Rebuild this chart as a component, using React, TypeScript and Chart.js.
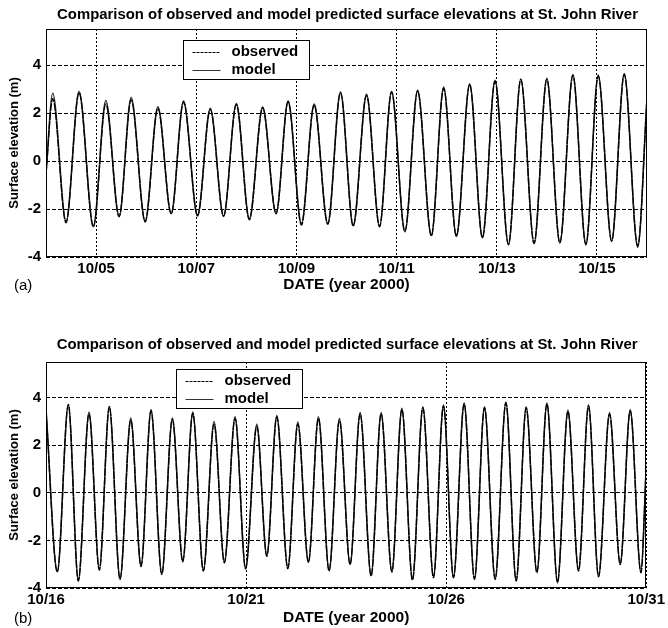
import React, { useEffect, useRef } from "react";
import { Chart, registerables } from "chart.js";

Chart.register(...registerables);

// ---------- text ----------
const TITLE = "Comparison of observed and model predicted surface elevations at St. John River";
const Y_TITLE = "Surface elevation (m)";
const X_TITLE = "DATE (year 2000)";
const SERIES_LABELS = ["observed", "model"];
const Y_TICKS = [-4, -2, 0, 2, 4];

// ---------- panel (a): 10/04 - 10/16 (day of October) ----------
const A_TICK_DAYS = [5, 7, 9, 11, 13, 15];
const A_TICK_LABELS = ["10/05", "10/07", "10/09", "10/11", "10/13", "10/15"];
const A_TIMES = [
  4.0, 4.134, 4.4, 4.66, 4.946, 5.194, 5.46, 5.7, 5.98, 6.234, 6.5, 6.746, 7.026, 7.28, 7.546, 7.8,
  8.06, 8.326, 8.594, 8.834, 9.1, 9.354, 9.626, 9.88, 10.134, 10.4, 10.66, 10.9, 11.166, 11.42,
  11.694, 11.94, 12.194, 12.46, 12.714, 12.966, 13.234, 13.48, 13.746, 14.0, 14.26, 14.52, 14.78,
  15.026, 15.294, 15.546, 15.814, 16.0,
];
const A_OBSERVED = [
  -0.55, 2.6, -2.57, 2.85, -2.75, 2.38, -2.32, 2.55, -2.54, 2.2, -2.19, 2.46, -2.29, 2.15, -2.29, 2.36,
  -2.45, 2.22, -2.19, 2.47, -2.67, 2.33, -2.64, 2.85, -2.71, 2.74, -2.74, 2.88, -2.92, 2.92,
  -3.12, 3.03, -3.12, 3.19, -3.19, 3.33, -3.47, 3.4, -3.44, 3.4, -3.4, 3.57, -3.47,
  3.54, -3.33, 3.61, -3.54, 2.6,
];
const A_MODEL = [
  -0.5, 2.82, -2.52, 2.9, -2.7, 2.52, -2.3, 2.65, -2.5, 2.26, -2.2, 2.5, -2.25, 2.2, -2.3, 2.4,
  -2.4, 2.25, -2.2, 2.5, -2.6, 2.38, -2.6, 2.88, -2.68, 2.78, -2.7, 2.9, -2.95, 2.95,
  -3.1, 3.08, -3.15, 3.22, -3.2, 3.36, -3.5, 3.42, -3.4, 3.45, -3.42, 3.6, -3.5,
  3.58, -3.35, 3.65, -3.6, 2.65,
];

// ---------- panel (b): 10/16 - 10/31 ----------
const B_TICK_DAYS = [16, 21, 26, 31];
const B_TICK_LABELS = ["10/16", "10/21", "10/26", "10/31"];
const B_TIMES = [
  16.0, 16.283, 16.558, 16.808, 17.075, 17.333, 17.583, 17.85, 18.118, 18.375, 18.625, 18.893,
  19.158, 19.418, 19.668, 19.933, 20.2, 20.458, 20.725, 20.988, 21.268, 21.518, 21.768, 22.043,
  22.293, 22.558, 22.808, 23.075, 23.333, 23.6, 23.85, 24.125, 24.375, 24.643, 24.893, 25.158,
  25.418, 25.683, 25.933, 26.183, 26.45, 26.708, 26.958, 27.225, 27.493, 27.75, 28.0, 28.268,
  28.518, 28.783, 29.043, 29.308, 29.558, 29.808, 30.083, 30.35, 30.6, 30.868, 31.0,
];
const B_OBSERVED = [
  3.45, -3.33, 3.72, -3.71, 3.33, -3.25, 3.63, -3.64, 3.06, -3.1, 3.45, -3.43,
  3.1, -2.9, 3.35, -3.29, 2.9, -2.94, 3.14, -3.2, 2.8, -2.67, 3.2, -3.19,
  2.9, -2.92, 3.14, -3.29, 3.06, -3.01, 3.33, -3.5, 3.33, -3.33, 3.52, -3.67,
  3.58, -3.57, 3.65, -3.57, 3.75, -3.64, 3.58, -3.64, 3.79, -3.71, 3.58, -3.36,
  3.75, -3.78, 3.42, -3.29, 3.65, -3.53, 3.31, -3.01, 3.45, -3.36, 1.1,
];
const B_MODEL = [
  3.55, -3.3, 3.68, -3.66, 3.4, -3.2, 3.6, -3.6, 3.15, -3.05, 3.5, -3.4,
  3.15, -2.85, 3.4, -3.25, 3.0, -2.9, 3.2, -3.15, 2.88, -2.62, 3.25, -3.15,
  2.98, -2.9, 3.2, -3.25, 3.12, -3.0, 3.38, -3.45, 3.38, -3.3, 3.56, -3.62,
  3.62, -3.52, 3.7, -3.55, 3.78, -3.6, 3.62, -3.6, 3.82, -3.66, 3.62, -3.32,
  3.78, -3.72, 3.48, -3.25, 3.7, -3.5, 3.38, -2.98, 3.5, -3.32, 1.15,
];

const FONT = '"Liberation Sans", Arial, Helvetica, sans-serif';

type PanelCfg = {
  top: number;
  height: number;
  padTop: number;
  xMin: number;
  xMax: number;
  tickDays: number[];
  tickLabels: string[];
  times: number[];
  observed: number[];
  model: number[];
  xAxisHeight: number;
  xTitlePadBottom: number;
  tag: string;
  titleY: number;
  tagY: number;
  legendDx: number;
  legendDy: number;
};

const PANELS: PanelCfg[] = [
  {
    top: 0, height: 300, padTop: 29, xMin: 4, xMax: 16,
    tickDays: A_TICK_DAYS, tickLabels: A_TICK_LABELS,
    times: A_TIMES, observed: A_OBSERVED, model: A_MODEL,
    xAxisHeight: 43, xTitlePadBottom: 6, tag: "(a)", titleY: 15, tagY: 286,
    legendDx: 137, legendDy: 11,
  },
  {
    top: 310, height: 318, padTop: 52, xMin: 16, xMax: 31,
    tickDays: B_TICK_DAYS, tickLabels: B_TICK_LABELS,
    times: B_TIMES, observed: B_OBSERVED, model: B_MODEL,
    xAxisHeight: 40, xTitlePadBottom: 1, tag: "(b)", titleY: 35, tagY: 309,
    legendDx: 130, legendDy: 7,
  },
];

function toPoints(times: number[], vals: number[]) {
  return times.map((t, i) => ({ x: t, y: vals[i] }));
}

function makeDecor(cfg: PanelCfg) {
  return {
    id: "panelDecor",
    afterDraw(chart: any) {
      const { ctx, chartArea: ca } = chart;
      ctx.save();
      ctx.setLineDash([]);
      // frame
      ctx.strokeStyle = "#000";
      ctx.lineWidth = 1;
      const l = Math.round(ca.left) + 0.5;
      const t = Math.round(ca.top) + 0.5;
      const r = Math.round(ca.right) - 0.5;
      const b = Math.round(ca.bottom) - 0.5;
      ctx.strokeRect(l, t, r - l, b - t);

      // legend
      const lx = Math.round(ca.left + cfg.legendDx) + 0.5;
      const ly = Math.round(ca.top + cfg.legendDy) + 0.5;
      const lw = 126;
      const lh = 39;
      ctx.fillStyle = "#fff";
      ctx.fillRect(lx, ly, lw, lh);
      ctx.strokeStyle = "#000";
      ctx.strokeRect(lx, ly, lw, lh);
      const ds = chart.data.datasets;
      const rows = [11, 29];
      ds.forEach((d: any, i: number) => {
        const yy = ly + rows[i];
        ctx.beginPath();
        ctx.strokeStyle = d.borderColor;
        ctx.lineWidth = 1;
        ctx.setLineDash(i === 0 ? [3, 1] : []);
        ctx.moveTo(lx + 9, Math.round(yy) + 0.5);
        ctx.lineTo(lx + 37, Math.round(yy) + 0.5);
        ctx.stroke();
        ctx.setLineDash([]);
        ctx.fillStyle = "#000";
        ctx.font = `bold 15px ${FONT}`;
        ctx.textAlign = "left";
        ctx.textBaseline = "middle";
        ctx.fillText(d.label, lx + 48, yy);
      });

      // title
      ctx.fillStyle = "#000";
      ctx.font = `bold 14.9px ${FONT}`;
      ctx.textAlign = "center";
      ctx.textBaseline = "middle";
      ctx.fillText(TITLE, (ca.left + ca.right) / 2 + 1, cfg.titleY);

      // panel tag
      ctx.font = `15px ${FONT}`;
      ctx.textAlign = "left";
      ctx.fillText(cfg.tag, 14, cfg.tagY);
      ctx.restore();
    },
  };
}

function Panel({ cfg }: { cfg: PanelCfg }) {
  const ref = useRef<HTMLCanvasElement>(null);
  useEffect(() => {
    const chart = new Chart(ref.current as HTMLCanvasElement, {
      type: "line",
      data: {
        datasets: [
          {
            label: SERIES_LABELS[0],
            data: toPoints(cfg.times, cfg.observed),
            borderColor: "#000",
            borderWidth: 1.4,
            borderDash: [8, 1],
            pointRadius: 0,
            cubicInterpolationMode: "monotone",
            fill: false,
          },
          {
            label: SERIES_LABELS[1],
            data: toPoints(cfg.times, cfg.model),
            borderColor: "#333",
            borderWidth: 1.5,
            pointRadius: 0,
            cubicInterpolationMode: "monotone",
            fill: false,
          },
        ],
      },
      options: {
        responsive: false,
        maintainAspectRatio: false,
        animation: false,
        layout: { padding: { left: 0, right: 21, top: cfg.padTop, bottom: 0 } },
        plugins: { legend: { display: false }, title: { display: false }, tooltip: { enabled: false } },
        scales: {
          x: {
            type: "linear",
            min: cfg.xMin,
            max: cfg.xMax,
            afterBuildTicks: (s: any) => {
              s.ticks = cfg.tickDays.map((v) => ({ value: v }));
            },
            afterFit: (s: any) => {
              s.height = cfg.xAxisHeight;
            },
            ticks: {
              autoSkip: false,
              maxRotation: 0,
              padding: 3,
              color: "#000",
              font: { family: FONT, size: 15, weight: "bold" },
              callback: (_v: any, i: number) => cfg.tickLabels[i],
            },
            grid: { color: "#000", lineWidth: 1, drawTicks: false },
            border: { display: false, dash: [2, 2] },
            title: {
              display: true,
              text: X_TITLE,
              color: "#000",
              font: { family: FONT, size: 15.5, weight: "bold" },
              padding: { top: 0, bottom: cfg.xTitlePadBottom },
            },
          },
          y: {
            type: "linear",
            min: -4,
            max: 5.5,
            afterBuildTicks: (s: any) => {
              s.ticks = Y_TICKS.map((v) => ({ value: v }));
            },
            afterFit: (s: any) => {
              s.width = 46;
            },
            ticks: {
              padding: 5,
              color: "#000",
              font: { family: FONT, size: 15, weight: "bold" },
              callback: (v: any) => String(v),
            },
            grid: { color: "#000", lineWidth: 1, drawTicks: false },
            border: { display: false, dash: [4, 2] },
            title: {
              display: true,
              text: Y_TITLE,
              color: "#000",
              font: { family: FONT, size: 13, weight: "bold" },
              padding: { top: 7, bottom: 0 },
            },
          },
        },
      },
      plugins: [makeDecor(cfg)],
    } as any);
    return () => chart.destroy();
  }, [cfg]);
  return (
    <canvas
      ref={ref}
      width={668}
      height={cfg.height}
      style={{ position: "absolute", left: 0, top: cfg.top, display: "block" }}
    />
  );
}

export default function App() {
  return (
    <div
      style={{
        position: "fixed",
        left: 0,
        top: 0,
        width: 668,
        height: 628,
        background: "#fff",
        overflow: "hidden",
      }}
    >
      {PANELS.map((p, i) => (
        <Panel key={i} cfg={p} />
      ))}
    </div>
  );
}
